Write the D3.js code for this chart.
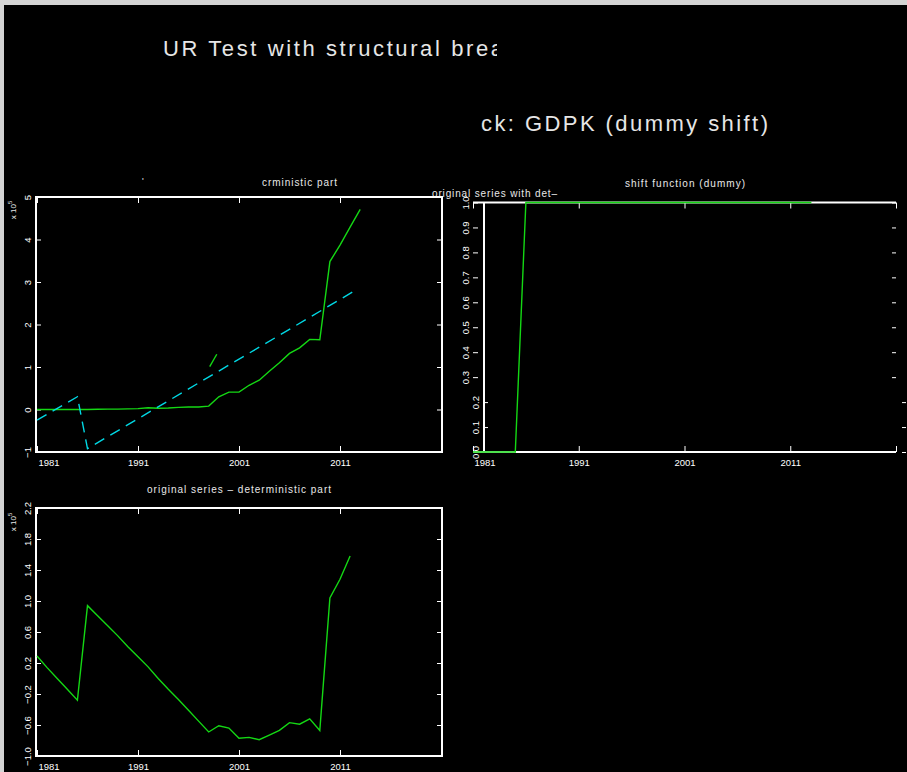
<!DOCTYPE html>
<html><head><meta charset="utf-8">
<script src="https://cdnjs.cloudflare.com/ajax/libs/d3/7.8.5/d3.min.js"></script>
<style>html,body{margin:0;padding:0;background:#d4d4d4;} svg{display:block}</style>
</head><body><script>
// ---------------- data ----------------
const years = [1981,1982,1983,1984,1985,1986,1987,1988,1989,1990,1991,1992,1993,1994,1995,1996,1997,
               1998,1999,2000,2001,2002,2003,2004,2005,2006,2007,2008,2009,2010,2011,2012,2013];
const originalSeries = [0.00,0.00,0.00,0.00,0.00,0.00,0.005,0.01,0.01,0.015,0.02,0.04,0.03,0.035,0.05,0.06,0.06,
                        0.08,0.30,0.41,0.41,0.57,0.69,0.90,1.10,1.32,1.45,1.65,1.64,3.48,3.87,4.29,4.71];
const detYears  = [1981, 1985, 1986, 2012.5];
const detValues = [-0.25, 0.30, -0.92, 2.80];
const strayYears  = [1998.1, 1998.8];
const strayValues = [1.01, 1.30];
const dummyValues = [0,0,0,0,0,1,1,1,1,1,1,1,1,1,1,1,1,1,1,1,1,1,1,1,1,1,1,1,1,1,1,1,1];
const residYears = [1981,1982,1983,1984,1985,1986,1987,1988,1989,1990,1991,1992,1993,1994,1995,1996,
                    1997,1998,1999,2000,2001,2002,2003,2004,2005,2006,2007,2008,2009,2010,2011,2012];
const residValues = [0.29,0.14,0.00,-0.14,-0.28,0.94,0.81,0.68,0.55,0.41,0.28,0.15,0.00,-0.14,-0.27,-0.41,
                     -0.55,-0.69,-0.61,-0.64,-0.77,-0.76,-0.79,-0.73,-0.67,-0.57,-0.59,-0.52,-0.67,1.04,1.28,1.58];
const xMajorTicks = [1981,1991,2001,2011,2021];
const xLabelTicks = [1981,1991,2001,2011];
const xMinorTicks = [1982,1983,1984,1985,1986,1987,1988,1989,1990,1992,1993,1994,1995,1996,1997,1998,1999,2000,
                     2002,2003,2004,2005,2006,2007,2008,2009,2010,2012,2013,2014,2015,2016,2017,2018,2019,2020];
const aYTicks = [-1,0,1,2,3,4,5];
const aYMinor = [-0.5,0.5,1.5,2.5,3.5,4.5];
const bYTicks = [0,0.1,0.2,0.3,0.4,0.5,0.6,0.7,0.8,0.9,1.0];
const bYMinor = [0.05,0.15,0.25,0.35,0.45,0.55,0.65,0.75,0.85,0.95];
const cYTicks = [-1.0,-0.6,-0.2,0.2,0.6,1.0,1.4,1.8,2.2];
const cYMinor = [-0.8,-0.4,0.0,0.4,0.8,1.2,1.6,2.0];

// ---------------- setup ----------------
const W = 907, H = 772;
const GREEN = "#14d814", CYAN = "#00d8e4", WHITE = "#ffffff", FONT = "Liberation Sans, Arial, sans-serif";
const svg = d3.select("body").append("svg").attr("width", W).attr("height", H);
svg.append("rect").attr("x", 4).attr("y", 5).attr("width", W - 4).attr("height", H - 5).attr("fill", "#000");
const defs = svg.append("defs");
defs.append("clipPath").attr("id", "clipT1").append("rect").attr("x", 0).attr("y", 0).attr("width", 497).attr("height", 100);

// titles
svg.append("text").attr("x", 163).attr("y", 56).attr("font-family", FONT).attr("font-size", 22)
  .attr("fill", "#e6e6e6").attr("textLength", 340).attr("lengthAdjust", "spacing")
  .attr("clip-path", "url(#clipT1)").text("UR Test with structural brea");
svg.append("text").attr("x", 481).attr("y", 131).attr("font-family", FONT).attr("font-size", 22)
  .attr("fill", "#e6e6e6").attr("textLength", 287).attr("lengthAdjust", "spacing")
  .text("ck: GDPK (dummy shift)");

function label(x, y, txt, len, size) {
  const t = svg.append("text").attr("x", x).attr("y", y).attr("font-family", FONT)
    .attr("font-size", size || 10).attr("fill", "#e8e8e8").text(txt);
  if (len) t.attr("textLength", len).attr("lengthAdjust", "spacing");
  return t;
}
label(142, 184, "\u02b9", null, 9);
label(262, 186, "crministic part", 75);
label(432, 197, "original series with det\u2013", 125);
label(625, 187, "shift function (dummy)", 120);
label(147, 493, "original series \u2013 deterministic part", 184);

function expLabel(x, y) {
  const t = svg.append("text").attr("transform", `translate(${x},${y}) rotate(-90)`)
    .attr("font-family", FONT).attr("font-size", 8).attr("fill", "#e8e8e8").attr("text-anchor", "middle");
  t.append("tspan").text("x 10");
  t.append("tspan").attr("dy", -4).attr("font-size", 6).text("5");
}
expLabel(16, 210);
expLabel(16, 522);

// ---------------- panel helper ----------------
function panel(opts) {
  const {x, y, yTicks, yMinor, yt, yb, yAxisX, fmt, lbl} = opts;
  const g = svg.append("g").attr("color", WHITE);
  const bot = g.append("g").attr("transform", `translate(0,${yb})`);
  bot.call(d3.axisBottom(x).tickValues(xMinorTicks).tickSize(-3).tickFormat(""));
  bot.call(d3.axisBottom(x).tickValues(xMajorTicks).tickSize(-6).tickFormat(""));
  const botL = g.append("g").attr("transform", `translate(0,${yb})`)
    .call(d3.axisBottom(x).tickValues(xLabelTicks).tickSize(0).tickPadding(7).tickFormat(d3.format("d")));
  botL.selectAll("text").attr("font-family", FONT).attr("font-size", 9.5)
    .attr("text-anchor", d => d === 1981 ? "start" : "middle").attr("dx", d => d === 1981 ? 1 : 0);
  const top = g.append("g").attr("transform", `translate(0,${yt})`);
  top.call(d3.axisTop(x).tickValues(xMinorTicks).tickSize(-3).tickFormat(""));
  top.call(d3.axisTop(x).tickValues(xMajorTicks).tickSize(-6).tickFormat(""));
  const left = g.append("g").attr("class", "yleft").attr("transform", `translate(${yAxisX},0)`);
  left.call(d3.axisLeft(y).tickValues(yMinor).tickSize(-3).tickFormat(""));
  left.call(d3.axisLeft(y).tickValues(yTicks).tickSize(-5).tickFormat(fmt));
  left.selectAll("text").attr("x", null).attr("dy", null)
    .attr("font-family", FONT).attr("font-size", 9.5).attr("text-anchor", "middle")
    .attr("dominant-baseline", "central").attr("transform", `translate(${lbl},0) rotate(-90)`);
  g.selectAll(".domain").remove();
  return g;
}

const lineGen = (x, y) => d3.line().x(d => x(d[0])).y(d => y(d[1]));

// ---------------- Panel A ----------------
const xA = d3.scaleLinear().domain([1981, 2021]).range([37, 441]);
const yA = d3.scaleLinear().domain([-1, 5]).range([452, 197]);
const gA = panel({x: xA, y: yA, yTicks: aYTicks, yMinor: aYMinor, yt: 197, yb: 452,
                  yAxisX: 36, fmt: d3.format("d"), lbl: -9});
const rA = gA.append("g").attr("transform", "translate(442,0)");
rA.call(d3.axisRight(yA).tickValues(aYMinor).tickSize(-3).tickFormat(""));
rA.call(d3.axisRight(yA).tickValues(aYTicks).tickSize(-5).tickFormat(""));
rA.selectAll(".domain").remove();
gA.append("rect").attr("x", 36).attr("y", 197).attr("width", 406).attr("height", 255)
  .attr("fill", "none").attr("stroke", WHITE).attr("stroke-width", 2);
svg.append("path").datum(years.map((d, i) => [d, originalSeries[i]]))
  .attr("d", lineGen(xA, yA)).attr("fill", "none").attr("stroke", GREEN).attr("stroke-width", 1.4);
svg.append("path").datum(strayYears.map((d, i) => [d, strayValues[i]]))
  .attr("d", lineGen(xA, yA)).attr("fill", "none").attr("stroke", GREEN).attr("stroke-width", 1.4);
svg.append("path").datum(detYears.map((d, i) => [d, detValues[i]]))
  .attr("d", lineGen(xA, yA)).attr("fill", "none").attr("stroke", CYAN).attr("stroke-width", 1.4)
  .attr("stroke-dasharray", "11,7");

// ---------------- Panel B ----------------
const xB = d3.scaleLinear().domain([1981, 2021]).range([473, 896]);
const yB = d3.scaleLinear().domain([0, 1]).range([452, 202.5]);
const gB = panel({x: xB, y: yB, yTicks: bYTicks, yMinor: bYMinor, yt: 202.5, yb: 452,
                  yAxisX: 473, fmt: d3.format(".1f"), lbl: -8});
// the lower part of the left axis is drawn shifted to the right in the original
gB.select(".yleft").selectAll(".tick").each(function(d) {
  if (d < 0.28) {
    const tr = d3.select(this).attr("transform");
    d3.select(this).attr("transform", tr.replace("translate(0,", "translate(10,"));
  }
});
const rB = gB.append("g").attr("transform", "translate(896,0)");
rB.call(d3.axisRight(yB).tickValues(bYMinor).tickSize(-2).tickFormat(""));
rB.call(d3.axisRight(yB).tickValues(bYTicks).tickSize(-4).tickFormat(""));
rB.selectAll(".domain").remove();
rB.selectAll(".tick").each(function(d) {
  const tr = d3.select(this).attr("transform");
  if (d < 0.28) d3.select(this).attr("transform", tr.replace("translate(0,", "translate(10,"));
});
gB.append("line").attr("x1", 473).attr("x2", 896).attr("y1", 202.5).attr("y2", 202.5).attr("stroke", WHITE).attr("stroke-width", 2);
gB.append("line").attr("x1", 473).attr("x2", 896).attr("y1", 452).attr("y2", 452).attr("stroke", WHITE).attr("stroke-width", 2);
gB.append("line").attr("x1", 484).attr("x2", 484).attr("y1", 202.5).attr("y2", 452).attr("stroke", WHITE).attr("stroke-width", 2);
svg.append("path").datum(years.map((d, i) => [d, dummyValues[i]]))
  .attr("d", lineGen(xB, yB)).attr("fill", "none").attr("stroke", GREEN).attr("stroke-width", 1.4);

// ---------------- Panel C ----------------
const xC = d3.scaleLinear().domain([1981, 2021]).range([37, 441]);
const yC = d3.scaleLinear().domain([-1.0, 2.2]).range([756, 508]);
const gC = panel({x: xC, y: yC, yTicks: cYTicks, yMinor: cYMinor, yt: 508, yb: 756,
                  yAxisX: 36, fmt: d3.format(".1f"), lbl: -9});
const rC = gC.append("g").attr("transform", "translate(442,0)");
rC.call(d3.axisRight(yC).tickValues(cYMinor).tickSize(-3).tickFormat(""));
rC.call(d3.axisRight(yC).tickValues(cYTicks).tickSize(-5).tickFormat(""));
rC.selectAll(".domain").remove();
gC.append("rect").attr("x", 36).attr("y", 508).attr("width", 406).attr("height", 248)
  .attr("fill", "none").attr("stroke", WHITE).attr("stroke-width", 2);
svg.append("path").datum(residYears.map((d, i) => [d, residValues[i]]))
  .attr("d", lineGen(xC, yC)).attr("fill", "none").attr("stroke", GREEN).attr("stroke-width", 1.4);
</script></body></html>
